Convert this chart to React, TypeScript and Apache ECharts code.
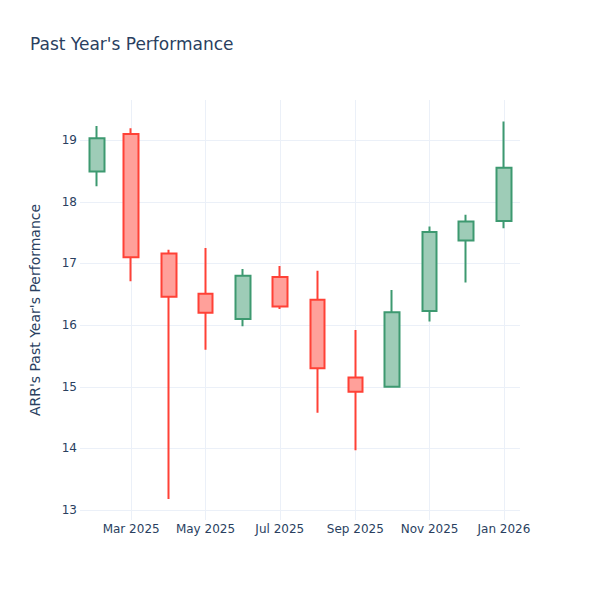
import React, { useEffect, useRef } from "react";
import * as echarts from "echarts";

const months = [
  "2025-02-01", "2025-03-01", "2025-04-01", "2025-05-01", "2025-06-01", "2025-07-01",
  "2025-08-01", "2025-09-01", "2025-10-01", "2025-11-01", "2025-12-01", "2026-01-01",
];
const openVals = [18.49, 19.10, 17.16, 16.51, 16.10, 16.78, 16.41, 15.15, 15.00, 16.23, 17.37, 17.69];
const closeVals = [19.03, 17.10, 16.46, 16.20, 16.80, 16.30, 15.30, 14.92, 16.21, 17.51, 17.68, 18.55];
const lowVals = [18.25, 16.71, 13.18, 15.60, 15.98, 16.26, 14.58, 13.97, 15.00, 16.06, 16.69, 17.57];
const highVals = [19.23, 19.19, 17.22, 17.25, 16.91, 16.96, 16.88, 15.92, 16.57, 17.60, 17.79, 19.30];
const monthNames = ["Jan", "Feb", "Mar", "Apr", "May", "Jun", "Jul", "Aug", "Sep", "Oct", "Nov", "Dec"];

const TEXT = "#2a3f5f";
const GRID = "#EBF0F8";
const FONT = "DejaVu Sans";

export default function App() {
  const ref = useRef<HTMLDivElement>(null);
  useEffect(() => {
    const chart = echarts.init(ref.current!, null, { renderer: "svg" });
    const data = months.map((m, i) => [
      Date.parse(m + "T00:00:00Z"),
      openVals[i],
      closeVals[i],
      lowVals[i],
      highVals[i],
    ]);
    chart.setOption({
      animation: false,
      useUTC: true,
      textStyle: { fontFamily: FONT },
      title: {
        text: "Past Year's Performance",
        left: 25,
        top: 30,
        textStyle: { fontFamily: FONT, fontSize: 17, fontWeight: "normal", color: TEXT },
      },
      grid: { left: 80, right: 80, top: 100, bottom: 80 },
      xAxis: {
        type: "time",
        min: Date.UTC(2025, 0, 18),
        max: Date.UTC(2026, 0, 14, 5),
        axisLine: { show: false },
        axisTick: { show: false },
        splitLine: { show: true, showMinLine: false, showMaxLine: false, lineStyle: { color: GRID, width: 1 } },
        axisLabel: {
          color: TEXT,
          fontFamily: FONT,
          fontSize: 12,
          margin: 3,
          showMinLabel: false,
          showMaxLabel: false,
          hideOverlap: false,
          formatter: (v: number) => {
            const d = new Date(v);
            return monthNames[d.getUTCMonth()] + " " + d.getUTCFullYear();
          },
        },
      },
      yAxis: {
        type: "value",
        min: 12.84,
        max: 19.65,
        name: "ARR's Past Year's Performance",
        nameLocation: "middle",
        nameGap: 38,
        nameTextStyle: { color: TEXT, fontFamily: FONT, fontSize: 14 },
        axisLine: { show: false },
        axisTick: { show: false },
        splitLine: { show: true, showMinLine: false, showMaxLine: false, lineStyle: { color: GRID, width: 1 } },
        axisLabel: {
          color: TEXT,
          fontFamily: FONT,
          fontSize: 12,
          margin: 3,
          showMinLabel: false,
          showMaxLabel: false,
        },
      },
      series: [
        {
          type: "candlestick",
          data,
          encode: { x: 0, y: [1, 2, 3, 4] },
          barWidth: 15,
          itemStyle: {
            color: "#9ECCB7",
            color0: "#FFA09A",
            borderColor: "#3D9970",
            borderColor0: "#FF4136",
            borderWidth: 2,
          },
        },
      ],
    });
    return () => chart.dispose();
  }, []);
  return (
    <div
      ref={ref}
      style={{ position: "absolute", left: 0, top: 0, width: 600, height: 600 }}
    />
  );
}
